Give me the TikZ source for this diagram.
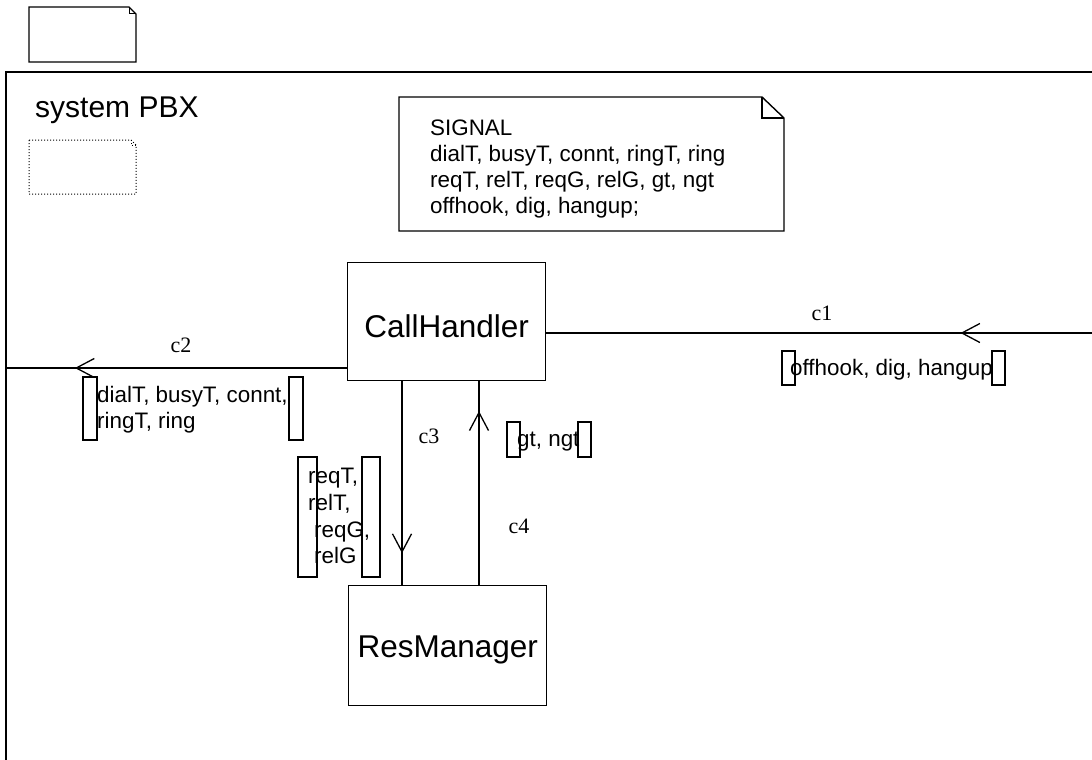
\documentclass[tikz,border=0pt]{standalone}
\usepackage{fontspec}
\setmainfont{Liberation Sans}
\newfontfamily\tms{Liberation Serif}
\usetikzlibrary{arrows.meta,decorations.markings}
\begin{document}
\begin{tikzpicture}[x=1pt,y=-1pt,
  box/.style={draw, line width=1.4pt, inner sep=0pt},
  conn/.style={line width=1.3pt},
  chev/.style={postaction={decorate}, decoration={markings, mark=at position #1 with {\arrow{Straight Barb[length=18pt,width=19pt,line width=1.3pt]}}}},
  lbl/.style={font=\fontsize{22.4}{26}\selectfont, inner sep=0pt, anchor=base west},
  clab/.style={font=\tms\fontsize{22}{26}\selectfont, inner sep=0pt, anchor=base},
  brk/.style={draw, line width=1.2pt}
]
\useasboundingbox (0,0) rectangle (1092,760);
\clip (0,0) rectangle (1092,760);

% empty note at top
\draw[line width=1.4pt] (29,7) -- (129,7) -- (136,14) -- (136,62) -- (29,62) -- cycle;
\draw[line width=1pt] (129,7) -- (129,14) -- (136,14);

% system frame
\draw[line width=1.4pt] (1100,72) -- (6,72) -- (6,770);
\node[font=\fontsize{30}{36}\selectfont, anchor=base west, inner sep=0pt] (sys) at (35,117) {system PBX};

% dotted note
\draw[line width=1pt, dotted] (29,140) -- (131,140) -- (136,145) -- (136,194) -- (29,194) -- cycle;
\draw[line width=1pt, dotted] (131,140) -- (131,145) -- (136,145);

% signal note
\draw[line width=1.4pt] (399,97) -- (762,97) -- (784,118) -- (784,231) -- (399,231) -- cycle;
\draw[line width=1.1pt] (762,97) -- (762,118) -- (784,118);
\node[lbl, align=left] (sig) at (430,213) {SIGNAL\\dialT, busyT, connt, ringT, ring\\reqT, relT, reqG, relG, gt, ngt\\offhook, dig, hangup;};

% blocks
\node[box, anchor=north west, minimum width=198pt, minimum height=118pt,
      font=\fontsize{31.5}{36}\selectfont, text height=32pt, text depth=0pt] (ch) at (347,262) {CallHandler};
\node[box, anchor=north west, minimum width=198pt, minimum height=120pt,
      font=\fontsize{31.5}{36}\selectfont, text height=24pt, text depth=0pt] (rm) at (348,585) {ResManager};

% connector coordinates
\coordinate (e1) at (1100,333);
\coordinate (w2) at (6,368);
\coordinate (x3) at (402,0);
\coordinate (x4) at (479,0);

% c1
\draw[conn, chev=0.252] (e1) -- (e1 -| ch.east);
\node[clab] (c1) at (822,320) {c1};
\draw[brk] (782,351) rectangle (795,385);
\draw[brk] (992,351) rectangle (1005,385);
\node[lbl] (s1) at (790,375) {offhook, dig, hangup};

% c2
\draw[conn, chev=0.798] (w2 -| ch.west) -- (w2);
\node[clab] (c2) at (181,352) {c2};
\draw[brk] (83,377) rectangle (97,440);
\draw[brk] (289,377) rectangle (303,440);
\node[lbl] (s2a) at (97,402) {dialT, busyT, connt,};
\node[lbl] (s2b) at (97,428) {ringT, ring};

% c3
\draw[conn, chev=0.844] (ch.south -| x3) -- (rm.north -| x3);
\node[clab] (c3) at (429,443) {c3};
\draw[brk] (298,457) rectangle (317,577);
\draw[brk] (362,457) rectangle (380,577);
\node[lbl] (s3a) at (308,483) {reqT,};
\node[lbl] (s3b) at (308,510) {relT,};
\node[lbl] (s3c) at (314,537) {reqG,};
\node[lbl] (s3d) at (314,563) {relG};

% c4
\draw[conn, chev=0.854] (rm.north -| x4) -- (ch.south -| x4);
\node[clab] (c4) at (519,533) {c4};
\draw[brk] (507,422) rectangle (520,457);
\draw[brk] (578,422) rectangle (591,457);
\node[lbl] (s4) at (517,446) {gt, ngt};
\end{tikzpicture}
\end{document}
